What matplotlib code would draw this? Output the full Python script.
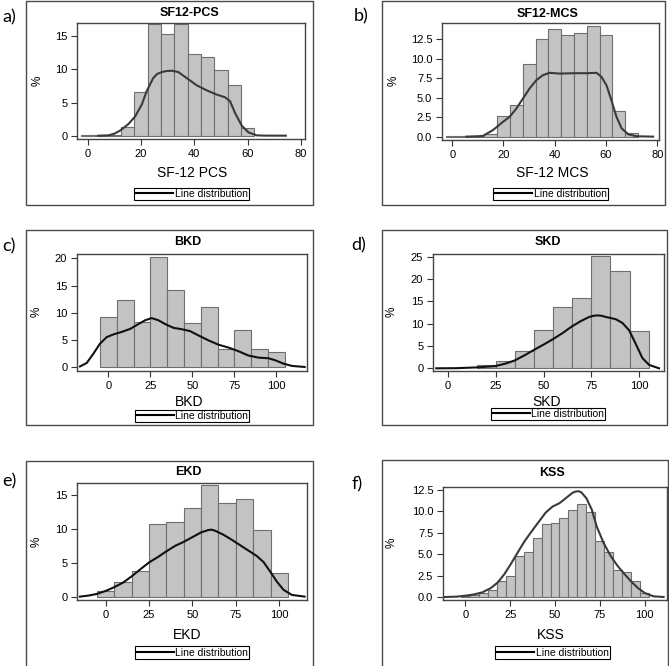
import matplotlib
matplotlib.use('Agg')
import matplotlib.pyplot as plt
from matplotlib.patches import Rectangle
from matplotlib.lines import Line2D

plt.rcParams['font.family'] = ['Liberation Sans', 'DejaVu Sans']

W, H = 669, 666

# ---- values: % per bin and the density line ----
pcs_bins = [0, 5, 10, 15, 20, 25, 30, 35, 40, 45, 50, 55, 60]
pcs_pct = [0.1, 0.1, 0.1, 1.3, 6.6, 16.8, 15.3, 16.8, 12.3, 11.9, 9.9, 7.7, 1.2]
pcs_line_x = [4, 7.8, 10, 12.1, 15.3, 17.8, 20.3, 22.1, 24.6, 26, 27.8, 29.5, 31.5, 34,
              37.1, 40.9, 44.6, 48.4, 51.5, 53.4, 55.3, 57.8, 60.3, 63.4, 66, 74.3]
pcs_line_y = [0, 0.05, 0.3, 0.75, 1.76, 2.9, 4.7, 6.7, 8.7, 9.3, 9.6, 9.75, 9.8, 9.6,
              8.7, 7.6, 6.85, 6.2, 5.8, 5.2, 3.4, 1.5, 0.5, 0.05, 0.01, 0]

mcs_bins = [0, 5, 10, 15, 20, 25, 30, 35, 40, 45, 50, 55, 60, 65, 70]
mcs_pct = [0.1, 0.1, 0.1, 0.3, 2.65, 4.1, 9.3, 12.6, 13.8, 13.1, 13.3, 14.25, 13.05, 3.3, 0.43]
mcs_line_x = [5.5, 10, 12, 15.9, 19.8, 22.4, 25, 27.6, 30.2, 32.8, 35.4, 38, 42, 47.2, 52.4,
              56.3, 58.2, 60.2, 62.1, 64.1, 66.1, 68.7, 71.9, 78.4]
mcs_line_y = [0, 0.05, 0.1, 0.85, 1.9, 2.55, 3.6, 4.9, 6.2, 7.25, 7.9, 8.2, 8.1, 8.15, 8.15,
              8.2, 7.7, 6.6, 4.7, 2.55, 1.07, 0.3, 0.05, 0]

bkd_bins = [0, 10, 20, 30, 40, 50, 60, 70, 80, 90, 100]
bkd_pct = [9.2, 12.25, 8.2, 20.2, 14.1, 8.1, 11.1, 3.3, 6.9, 3.3, 2.8]
bkd_line_x = [-16.9, -12.9, -8.9, -5, -1, 3, 8, 12.9, 17.9, 21.9, 25.8, 29.8, 33.8, 38.8,
              43.7, 48.7, 53.7, 59.6, 65.6, 71.6, 77.5, 83.5, 89.5, 95.4, 99.4, 104.4,
              109.3, 116.9]
bkd_line_y = [0.1, 0.74, 2.46, 4.3, 5.5, 6.0, 6.46, 7.0, 7.9, 8.6, 9.0, 8.6, 7.9, 7.2,
              6.95, 6.6, 5.8, 4.9, 4.1, 3.57, 2.9, 2.1, 1.72, 1.6, 1.23, 0.6, 0.2, 0]

skd_bins = [20, 30, 40, 50, 60, 70, 80, 90, 100]
skd_pct = [0.7, 1.75, 3.9, 8.6, 13.7, 15.8, 25.1, 21.9, 8.3]
skd_line_x = [-6.1, 4.3, 14.8, 24.9, 30.4, 35, 40, 44.9, 50.4, 54.8, 60, 64.9, 69.6,
              73.9, 76, 78.3, 80.5, 82.6, 87.8, 91.3, 94.8, 98.3, 101.7, 105.2, 110.4]
skd_line_y = [0, 0.03, 0.2, 0.5, 1.1, 1.77, 2.9, 4.1, 5.4, 6.5, 7.9, 9.4, 10.6,
              11.5, 11.75, 11.85, 11.75, 11.5, 11.0, 10.15, 8.5, 5.4, 2.3, 0.77, 0]

ekd_bins = [0, 10, 20, 30, 40, 50, 60, 70, 80, 90, 100]
ekd_pct = [0.8, 2.2, 3.8, 10.75, 11.1, 13.1, 16.5, 13.9, 14.5, 9.85, 3.5]
ekd_line_x = [-14.8, -10, -5, 0, 5, 10.2, 15, 19.8, 25, 30.4, 35, 40, 45, 50, 55, 59.2,
              61, 63, 67.9, 72.7, 77.5, 82.3, 87.1, 91, 94.8, 98.7, 102.5, 107.3, 114.6]
ekd_line_y = [0, 0.15, 0.4, 0.84, 1.4, 2.1, 3.0, 4.0, 5.05, 5.9, 6.7, 7.5, 8.1, 8.8, 9.5,
              9.85, 9.9, 9.75, 9.15, 8.4, 7.6, 6.8, 6.0, 5.1, 3.7, 2.2, 1.0, 0.25, 0]

kss_bins = [0, 5, 10, 15, 20, 25, 30, 35, 40, 45, 50, 55, 60, 65, 70, 75, 80, 85, 90, 95, 100]
kss_pct = [0.08, 0.23, 0.47, 0.8, 1.82, 2.4, 4.75, 5.3, 6.85, 8.55, 8.65, 9.25, 10.2,
           10.85, 9.95, 6.6, 5.2, 3.15, 2.9, 1.82, 0.47]
kss_line_x = [-11.4, -4.8, 0, 4.8, 9.5, 14.3, 18.1, 21.9, 25.7, 29.5, 33.3, 37.1, 41,
              44.8, 48.6, 52.4, 55.2, 58.1, 60, 61.9, 63.3, 64.8, 67.6, 70.5, 73.3, 77.1, 81,
              84.8, 88.6, 92.4, 96.2, 100, 104.8, 110.5]
kss_line_y = [0, 0.04, 0.15, 0.3, 0.54, 1.05, 1.7, 2.7, 3.96, 5.3, 6.6, 7.7, 8.8,
              9.86, 10.56, 10.95, 11.4, 11.9, 12.2, 12.34, 12.35, 12.2, 11.5, 10.2, 8.2,
              6.3, 4.8, 3.65, 2.7, 1.82, 1.05, 0.47, 0.08, 0]

# ---- layout (pixel boxes: left, top, right, bottom) ----
panels = [
    dict(letter='a)', lpos=(9, 17), title='SF12-PCS', xlabel='SF-12 PCS',
         bins=pcs_bins, pct=pcs_pct, lx=pcs_line_x, ly=pcs_line_y, width=5,
         box=(26, 1, 313, 205), ax=(77, 23, 305, 139), xlim=(-4, 81.5), ylim=(-0.5, 17),
         xticks=[0, 20, 40, 60, 80], yticks=[0, 5, 10, 15], yfmt='{:.0f}',
         tpos=(190, 13), xlpos=(192, 173), ylpos=(38, 81), leg=(132, 188, 251, 200),
         lc='#3a3a3a'),
    dict(letter='b)', lpos=(361, 16), title='SF12-MCS', xlabel='SF-12 MCS',
         bins=mcs_bins, pct=mcs_pct, lx=mcs_line_x, ly=mcs_line_y, width=5,
         box=(382, 1, 665, 205), ax=(442, 23, 659, 140), xlim=(-4, 80.7), ylim=(-0.43, 14.6),
         xticks=[0, 20, 40, 60, 80], yticks=[0, 2.5, 5, 7.5, 10, 12.5], yfmt='{:.1f}',
         tpos=(548, 14), xlpos=(552, 173), ylpos=(394, 81), leg=(490, 188, 611, 200),
         lc='#3a3a3a'),
    dict(letter='c)', lpos=(9, 246), title='BKD', xlabel='BKD',
         bins=bkd_bins, pct=bkd_pct, lx=bkd_line_x, ly=bkd_line_y, width=10,
         box=(26, 230, 313, 425), ax=(77, 254, 307, 371), xlim=(-18.7, 118.3), ylim=(-0.74, 20.8),
         xticks=[0, 25, 50, 75, 100], yticks=[0, 5, 10, 15, 20], yfmt='{:.0f}',
         tpos=(188, 242), xlpos=(189, 402), ylpos=(37, 312), leg=(133, 410, 251, 421.5),
         lc='#111111'),
    dict(letter='d)', lpos=(359, 245), title='SKD', xlabel='SKD',
         bins=skd_bins, pct=skd_pct, lx=skd_line_x, ly=skd_line_y, width=10,
         box=(382, 230, 667, 425), ax=(433, 254, 664, 371), xlim=(-7.8, 113), ylim=(-0.6, 25.6),
         xticks=[0, 25, 50, 75, 100], yticks=[0, 5, 10, 15, 20, 25], yfmt='{:.0f}',
         tpos=(548, 242), xlpos=(547, 402), ylpos=(392, 312), leg=(488, 408, 608, 420),
         lc='#111111'),
    dict(letter='e)', lpos=(9, 481), title='EKD', xlabel='EKD',
         bins=ekd_bins, pct=ekd_pct, lx=ekd_line_x, ly=ekd_line_y, width=10,
         box=(26, 461, 313, 668), ax=(77, 483, 307, 600), xlim=(-16.5, 116), ylim=(-0.5, 16.8),
         xticks=[0, 25, 50, 75, 100], yticks=[0, 5, 10, 15], yfmt='{:.0f}',
         tpos=(188, 472), xlpos=(187, 635), ylpos=(37, 542), leg=(133, 647, 251, 658),
         lc='#111111'),
    dict(letter='f)', lpos=(357, 484), title='KSS', xlabel='KSS',
         bins=kss_bins, pct=kss_pct, lx=kss_line_x, ly=kss_line_y, width=5,
         box=(382, 460, 668, 668), ax=(443, 487, 667, 600), xlim=(-12.4, 112.4), ylim=(-0.35, 12.85),
         xticks=[0, 25, 50, 75, 100], yticks=[0, 2.5, 5, 7.5, 10, 12.5], yfmt='{:.1f}',
         tpos=(552, 473), xlpos=(551, 635), ylpos=(392, 543), leg=(493, 647, 612, 658),
         lc='#3a3a3a'),
]

fig = plt.figure(figsize=(W / 100, H / 100), dpi=100)


def fx(x):
    return x / W


def fy(y):
    return 1 - y / H


for p in panels:
    l, t, r, b = p['box']
    fig.add_artist(Rectangle((fx(l), fy(b)), (r - l) / W, (b - t) / H, transform=fig.transFigure,
                             fill=False, ec='#4a4a4a', lw=1.0))
    fig.text(fx(p['lpos'][0]), fy(p['lpos'][1]), p['letter'], family='Lato', fontsize=13,
             ha='center', va='center')

    l, t, r, b = p['ax']
    ax = fig.add_axes([fx(l), fy(b), (r - l) / W, (b - t) / H])
    ax.bar(p['bins'], p['pct'], width=p['width'], color='#c3c3c3', edgecolor='#6e6e6e', lw=0.8)
    ax.plot(p['lx'], p['ly'], color=p['lc'], lw=1.5, solid_joinstyle='round')
    ax.set_xlim(*p['xlim'])
    ax.set_ylim(*p['ylim'])
    ax.set_xticks(p['xticks'])
    ax.set_yticks(p['yticks'])
    ax.set_yticklabels([p['yfmt'].format(v) for v in p['yticks']])
    ax.tick_params(direction='out', length=4, width=0.8, color='#333333', labelsize=8, pad=3)
    for s in ax.spines.values():
        s.set_color('#444444')
        s.set_linewidth(1.0)

    fig.text(fx(p['tpos'][0]), fy(p['tpos'][1]), p['title'], fontsize=9, fontweight='bold',
             ha='center', va='center')
    fig.text(fx(p['xlpos'][0]), fy(p['xlpos'][1]), p['xlabel'], fontsize=10,
             ha='center', va='center')
    fig.text(fx(p['ylpos'][0]), fy(p['ylpos'][1]), '%', fontsize=8.5, rotation=90,
             ha='center', va='center')

    x0, y0, x1, y1 = p['leg']
    ax.legend([Line2D([], [], color='black', lw=1.5)], ['Line distribution'],
              loc='center', bbox_to_anchor=(fx((x0 + x1) / 2), fy((y0 + y1) / 2)),
              bbox_transform=fig.transFigure, fontsize=7.5, handlelength=3.6,
              handletextpad=0.15, borderpad=0.12, fancybox=False, framealpha=1,
              edgecolor='black').get_frame().set_linewidth(0.8)

fig.savefig('out.png', dpi=100)
